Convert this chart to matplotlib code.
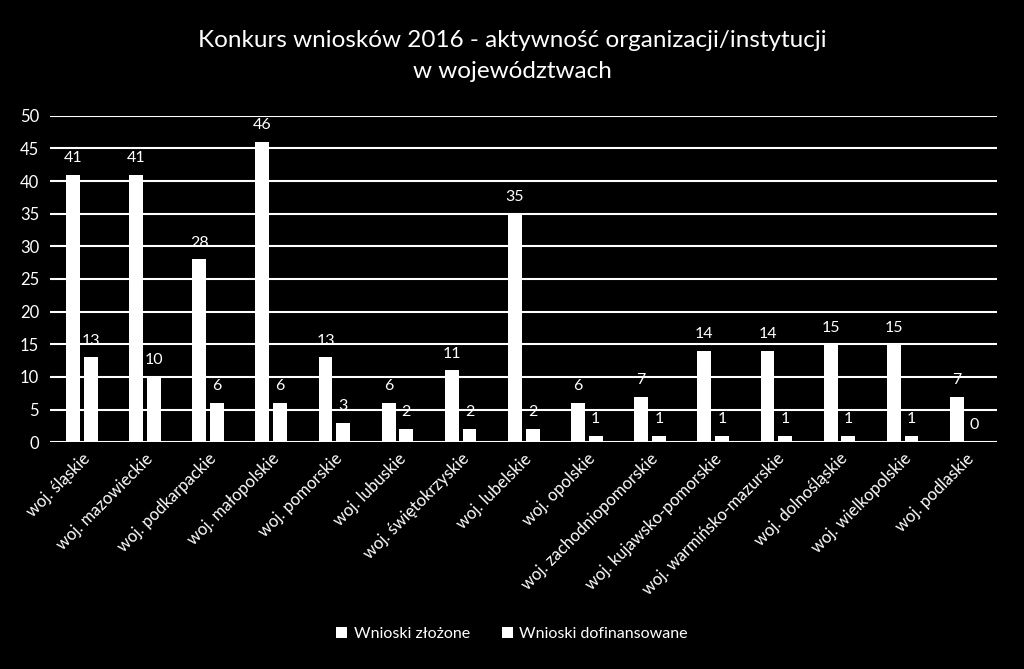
import numpy as np
import matplotlib
matplotlib.use("Agg")
import matplotlib.pyplot as plt

plt.rcParams['font.family'] = ['Lato', 'DejaVu Sans']

categories = ["woj. śląskie", "woj. mazowieckie", "woj. podkarpackie", "woj. małopolskie",
              "woj. pomorskie", "woj. lubuskie", "woj. świętokrzyskie", "woj. lubelskie",
              "woj. opolskie", "woj. zachodniopomorskie", "woj. kujawsko-pomorskie",
              "woj. warmińsko-mazurskie", "woj. dolnośląskie", "woj. wielkopolskie", "woj. podlaskie"]
zlozone = [41, 41, 28, 46, 13, 6, 11, 35, 6, 7, 14, 14, 15, 15, 7]
dofinansowane = [13, 10, 6, 6, 3, 2, 2, 2, 1, 1, 1, 1, 1, 1, 0]
yticks = [0, 5, 10, 15, 20, 25, 30, 35, 40, 45, 50]

fig = plt.figure(figsize=(10.24, 6.69), dpi=100, facecolor='black')
ax = fig.add_axes([0.049, 0.339, 0.925, 0.488], facecolor='black')

x = np.arange(len(categories))
w = 0.22
gap = 0.03
b1 = ax.bar(x - w / 2 - gap, zlozone, w, color='white', label='Wnioski złożone', zorder=3)
b2 = ax.bar(x + w / 2 + gap, dofinansowane, w, color='white', label='Wnioski dofinansowane', zorder=3)

for bars in (b1, b2):
    for r in bars:
        ax.annotate(f"{int(r.get_height())}", (r.get_x() + r.get_width() / 2, r.get_height()),
                    xytext=(0, 7), textcoords='offset points', ha='center', va='bottom',
                    color='white', fontsize=11.5)

ax.set_xlim(-0.5, len(categories) - 0.5)
ax.set_ylim(0, 50)
ax.set_yticks(yticks)
ax.yaxis.grid(True, color='white', linewidth=1.5, zorder=0)
ax.set_axisbelow(True)
for s in ax.spines.values():
    s.set_visible(False)
ax.tick_params(axis='both', length=0, colors='white', labelsize=12)
ax.tick_params(axis='y', pad=8)
ax.tick_params(axis='x', pad=6)
ax.set_xticks(x)
ax.set_xticklabels(categories, rotation=45, ha='right', rotation_mode='anchor')

fig.suptitle("Konkurs wniosków 2016 - aktywność organizacji/instytucji\nw województwach",
             color='white', fontsize=17.5, y=0.955, linespacing=1.6)

leg = fig.legend(loc='lower center', bbox_to_anchor=(0.5, 0.02), ncol=2, frameon=False,
                 fontsize=11.5, labelcolor='white', handlelength=0.7, handleheight=0.7,
                 columnspacing=2, handletextpad=0.4)

fig.savefig("out.png", dpi=100, facecolor='black')
